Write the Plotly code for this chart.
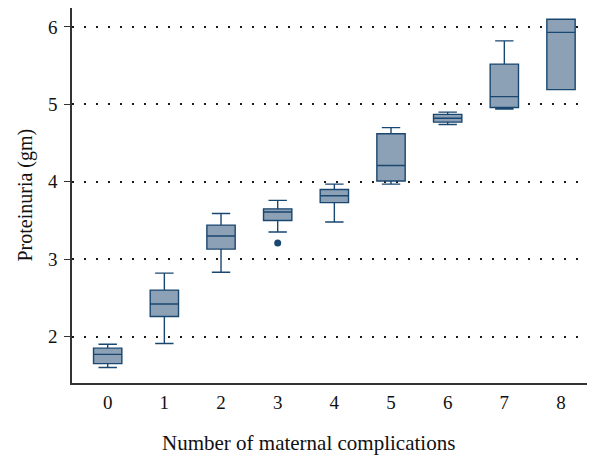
import plotly.graph_objects as go

categories = [0, 1, 2, 3, 4, 5, 6, 7, 8]
lower_whisker = [1.60, 1.91, 2.83, 3.35, 3.48, 3.97, 4.74, 4.94, 5.19]
q1_values = [1.65, 2.26, 3.13, 3.50, 3.73, 4.01, 4.77, 4.96, 5.19]
median_values = [1.77, 2.42, 3.30, 3.61, 3.82, 4.21, 4.82, 5.10, 5.93]
q3_values = [1.85, 2.60, 3.44, 3.65, 3.90, 4.62, 4.87, 5.52, 6.10]
upper_whisker = [1.90, 2.82, 3.59, 3.76, 3.97, 4.70, 4.90, 5.82, 6.10]
outlier_x = [3]
outlier_y = [3.21]

y_ticks = [2, 3, 4, 5, 6]

navy = "#1a476f"
fill = "#8ca1b6"
serif = "Liberation Serif, DejaVu Serif, serif"

fig = go.Figure()
fig.add_trace(go.Box(
    x=categories,
    q1=q1_values,
    median=median_values,
    q3=q3_values,
    lowerfence=lower_whisker,
    upperfence=upper_whisker,
    fillcolor=fill,
    line=dict(color=navy, width=1.4),
    width=0.5,
    whiskerwidth=0.65,
    boxpoints=False,
    showlegend=False,
    hoverinfo="skip",
))
fig.add_trace(go.Scatter(
    x=outlier_x, y=outlier_y, mode="markers",
    marker=dict(color=navy, size=7),
    showlegend=False, hoverinfo="skip",
))

# page has an 8px body margin: figure is 587x448 placed at (8, 8)
fig.update_layout(
    width=587, height=448,
    margin=dict(l=64, r=0, t=0, b=73, autoexpand=False),
    paper_bgcolor="white", plot_bgcolor="white",
    font=dict(family=serif, size=19, color="#111111"),
    xaxis=dict(
        range=[-0.63, 8.6], automargin=False,
        tickmode="array", tickvals=categories, ticktext=[str(c) for c in categories],
        showgrid=False, zeroline=False,
        showline=True, linecolor="#333333", linewidth=1.5,
        ticks="", ticklabelstandoff=1,
    ),
    yaxis=dict(
        range=[1.40, 6.245], automargin=False,
        tickmode="array", tickvals=y_ticks, ticktext=[str(t) for t in y_ticks],
        showgrid=True, gridcolor="#1a1a1a", gridwidth=1.5, griddash="1.5px,10.5px",
        zeroline=False,
        showline=True, linecolor="#333333", linewidth=1.5,
        ticks="outside", ticklen=6, tickwidth=1.4, tickcolor="#333333",
        ticklabelstandoff=3,
    ),
    annotations=[
        dict(
            text="Number of maternal complications",
            xref="paper", yref="paper", x=0.453, y=0, yshift=-60,
            xanchor="center", yanchor="middle", showarrow=False,
            font=dict(family=serif, size=21, color="#111111"),
        ),
        dict(
            text="Proteinuria (gm)", textangle=-90,
            xref="paper", yref="paper", x=0, y=0.5, xshift=-47,
            xanchor="center", yanchor="middle", showarrow=False,
            font=dict(family=serif, size=20, color="#111111"),
        ),
    ],
)

fig.write_html("out.html")
